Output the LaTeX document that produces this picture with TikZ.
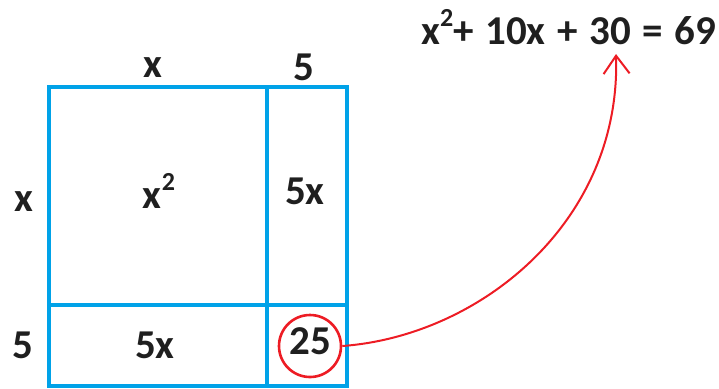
\documentclass[tikz,border=0pt]{standalone}
\usepackage{fontspec}
\setmainfont{Carlito}
\usetikzlibrary{arrows.meta}
\definecolor{gridblue}{HTML}{00A2E8}
\definecolor{markred}{HTML}{ED1C24}
\newcommand{\sqd}{\raisebox{9pt}{\fontsize{13}{13}\bfseries\selectfont 2}}
\begin{document}
\begin{tikzpicture}[x=0.5pt,y=-0.5pt,
  lbl/.style={font=\fontsize{20.5}{20.5}\bfseries\selectfont, inner sep=0pt, anchor=base, text=black!88},
  gridline/.style={draw=gridblue, line width=1.6pt},
  redline/.style={draw=markred, line width=1pt}]
\useasboundingbox (0,0) rectangle (719,388);
% grid
\draw[gridline] (49,87) rectangle (347,386);
\draw[gridline] (267,87) -- (267,386);
\draw[gridline] (49,305) -- (347,305);
% side labels
\node[lbl] (tx) at (153,77) {x};
\node[lbl] (t5) at (304,80) {5};
\node[lbl] (lx) at (24,211) {x};
\node[lbl] (l5) at (23,358) {5};
% cell labels
\node[lbl] (xsq) at (159,208) {x\sqd};
\node[lbl] (r5x) at (305,204) {5x};
\node[lbl] (b5x) at (155,358) {5x};
\node[lbl] (n25) at (310,354) {25};
\node[circle, draw=markred, line width=1.3pt, minimum size=31pt, inner sep=0pt] (circ) at (310,346) {};
% equation
\node[lbl, anchor=base west] (eq) at (421,44) {\spaceskip=5.8pt x\sqd+ 10x + 30 = 69};
\coordinate (tip) at (616,54);
\draw[redline, -{Straight Barb[length=9pt,width=13pt]}] (circ.east) .. controls (480,336) and (621,222) .. (tip);
\end{tikzpicture}
\end{document}
